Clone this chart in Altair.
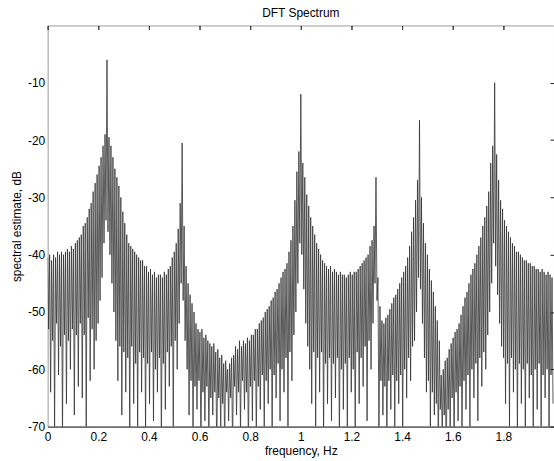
import altair as alt
import pandas as pd

# frequency bin spacing of the DFT grid (Hz)
bin_step_hz = 2.0 / 512

# sidelobe tops (even bins), dB  (16 per row)
upper_db = [
    -40.5, -40, -41, -40, -40.5, -39.5, -40, -39.5, -40, -39.5, -39, -39.5, -38.5, -39, -38, -37.5,
    -37, -36.5, -35, -34.5, -33.5, -32, -31, -29, -27.5, -26, -24.5, -23, -21, -19, -6, -19.5,
    -21, -23, -25, -26.5, -28, -30, -32.5, -34.5, -36.5, -38, -38.5, -39, -39.5, -40, -40.5, -41,
    -41, -42, -42, -43, -42.5, -43.5, -43, -44, -43.5, -43.5, -44, -43, -43.5, -42.5, -42, -40.5,
    -39.5, -38, -35.5, -31, -20.5, -35, -42, -45, -47, -48.5, -50, -52, -53, -53.5, -53, -54.5,
    -54, -55, -55.5, -56, -55.5, -57, -56.5, -58, -57.5, -59, -58.5, -60, -59, -58, -57.5, -56,
    -56.5, -55, -56, -55, -55.5, -54.5, -55, -54, -54, -53, -53, -52, -51.5, -51, -50, -49.5,
    -49, -48, -47.5, -46.5, -46, -45, -44, -43, -42.5, -41.5, -39.5, -37.5, -35, -30.5, -25.5, -22,
    -12, -24, -26.5, -29.5, -31.5, -33.5, -35, -36.5, -38, -39, -40, -41, -41.5, -42, -42.5, -42,
    -43, -42.5, -43, -43.5, -43, -43.5, -43.5, -44, -43.5, -43, -43.5, -43, -43, -42.5, -42, -41.5,
    -41, -40.5, -40, -38.5, -37.5, -35, -26.5, -44, -49, -51.5, -52, -51, -50.5, -49.5, -48.5, -47.5,
    -47, -46, -45, -44, -43, -42, -40.5, -38.5, -36, -33.5, -30.5, -27, -16.5, -30, -34.5, -38,
    -40, -42.5, -44.5, -46.5, -49, -51.5, -55, -61, -60, -58.5, -58, -56.5, -55.5, -54.5, -53.5, -53,
    -52, -50.5, -49, -47.5, -46.5, -45, -43.5, -42.5, -41.5, -40, -38.5, -37, -35, -33.5, -31.5, -29,
    -24, -21, -10, -22.5, -27, -30.5, -32, -34, -35, -36, -37, -38, -38.5, -39.5, -39.5, -40,
    -40.5, -41, -41, -41.5, -41.5, -42, -42, -42.5, -42.5, -43, -42.5, -43, -43.5, -43, -43.5, -44,
]

# troughs between them (odd bins), dB  (16 per row)
lower_db = [
    -53, -64, -55, -70, -52, -61, -56, -72, -54, -66, -55, -60, -53, -68, -54, -63,
    -52, -65, -54, -70, -51, -62, -53, -60, -55, -52, -48, -44, -38, -34, -36, -40,
    -45, -50, -55, -62, -56, -68, -57, -64, -58, -72, -56, -66, -59, -70, -57, -64,
    -58, -71, -59, -66, -57, -69, -60, -64, -58, -73, -59, -67, -57, -63, -56, -70,
    -55, -60, -52, -45, -48, -55, -60, -68, -62, -71, -63, -67, -62, -74, -64, -69,
    -63, -72, -65, -68, -64, -75, -65, -70, -66, -73, -64, -69, -65, -74, -63, -68,
    -64, -71, -62, -67, -64, -74, -63, -69, -62, -72, -63, -67, -61, -70, -62, -66,
    -60, -71, -61, -65, -59, -69, -60, -64, -58, -70, -57, -62, -54, -50, -45, -38,
    -40, -46, -52, -56, -60, -66, -57, -70, -58, -64, -57, -72, -59, -66, -58, -69,
    -59, -65, -58, -73, -60, -67, -59, -70, -58, -64, -60, -72, -57, -66, -58, -63,
    -56, -69, -55, -60, -52, -45, -48, -72, -62, -68, -63, -74, -62, -67, -61, -70,
    -62, -66, -61, -71, -60, -65, -58, -62, -56, -55, -50, -44, -46, -52, -58, -64,
    -62, -70, -64, -68, -66, -74, -67, -72, -68, -76, -67, -71, -65, -74, -64, -69,
    -63, -72, -62, -67, -61, -70, -60, -65, -59, -69, -58, -63, -57, -60, -54, -50,
    -45, -38, -42, -47, -52, -56, -58, -66, -59, -70, -58, -64, -60, -72, -59, -66,
    -60, -71, -59, -65, -61, -73, -60, -67, -59, -70, -61, -65, -60, -72, -61, -66,
]

x_ticks = [0, 0.2, 0.4, 0.6, 0.8, 1.0, 1.2, 1.4, 1.6, 1.8]
y_ticks = [-70, -60, -50, -40, -30, -20, -10]

db = []
for hi, lo in zip(upper_db, lower_db):
    db.extend([hi, lo])
freq = [i * bin_step_hz for i in range(len(db))]
df = pd.DataFrame({"f": freq, "db": db})

FONT = "Liberation Sans"
xs = alt.Scale(domain=[0, 2], nice=False, zero=False)
ys = alt.Scale(domain=[-70, 0], nice=False, zero=False)

main = alt.Chart(df).mark_line(color="#333333", strokeWidth=0.8, clip=True).encode(
    x=alt.X("f:Q", scale=xs, axis=alt.Axis(
        values=x_ticks, labelExpr="'' + datum.value", title="frequency, Hz",
        ticks=False, tickSize=0, labelPadding=5, titlePadding=3,
        domain=True, domainColor="#303030", grid=False,
        labelFont=FONT, labelFontSize=12, labelColor="black", labelFlush=False,
        titleFont=FONT, titleFontSize=12, titleFontWeight="normal", titleColor="black")),
    y=alt.Y("db:Q", scale=ys, axis=alt.Axis(
        values=y_ticks, labelExpr="'' + datum.value", title="spectral estimate, dB",
        ticks=False, tickSize=0, labelPadding=3, titlePadding=4,
        domain=False, grid=False,
        labelFont=FONT, labelFontSize=12, labelColor="black",
        titleFont=FONT, titleFontSize=12, titleFontWeight="normal", titleColor="black")),
)

ticks_in = alt.Chart(df).mark_line(opacity=0).encode(
    x=alt.X("f:Q", scale=xs, axis=alt.Axis(
        values=x_ticks, labels=False, domain=False, title=None, grid=False,
        ticks=True, tickSize=4, offset=-4, tickColor="#202020")),
    y=alt.Y("db:Q", scale=ys, axis=alt.Axis(
        values=y_ticks, labels=False, domain=False, title=None, grid=False,
        ticks=True, tickSize=4, offset=-4, tickColor="#202020")),
)

ticks_top = alt.Chart(df).mark_line(opacity=0).encode(
    x=alt.X("f:Q", scale=xs, axis=alt.Axis(
        orient="top", values=x_ticks, labels=False, domain=False, title=None,
        grid=False, ticks=True, tickSize=4, offset=-4, tickColor="#404040")),
    y=alt.Y("db:Q", scale=ys, axis=None),
)

chart = alt.layer(main, ticks_in, ticks_top).resolve_axis(
    x="independent", y="independent"
).properties(
    width=510,
    height=404,
    title=alt.TitleParams("DFT Spectrum", fontSize=12, fontWeight="normal", font=FONT,
                          color="black", offset=0, dy=4, baseline="alphabetic",
                          anchor="middle"),
    autosize=alt.AutoSizeParams(type="none"),
    padding={"left": 48, "top": 24, "right": 0, "bottom": 33},
    background="white",
).configure_view(stroke="#9a9a9a", strokeWidth=1)

chart.save("out.html", embed_options={"renderer": "svg", "actions": False})
